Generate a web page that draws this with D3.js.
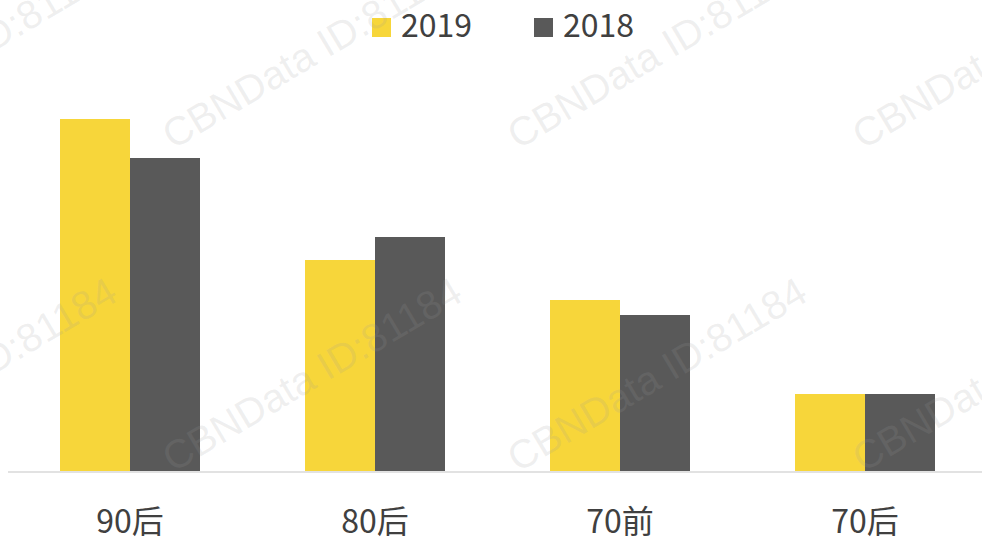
<!DOCTYPE html>
<html>
<head>
<meta charset="utf-8">
<script src="https://cdn.jsdelivr.net/npm/d3@7"></script>
<style>
  html, body { margin: 0; padding: 0; background: #fff; }
  svg { display: block; }
</style>
</head>
<body>
<div id="chart"></div>
<script>
// data (no value axis shown, units are relative)
const categories = ["90后", "80后", "70前", "70后"];
const seriesNames = ["2019", "2018"];
const values2019 = [35.2, 21.1, 17.1, 7.7];
const values2018 = [31.3, 23.4, 15.6, 7.7];
const colors = ["#F7D63A", "#595959"];

const width = 982, height = 540;
const baseY = 471;

const svg = d3.select("#chart").append("svg")
  .attr("width", width).attr("height", height);

const x = d3.scaleBand().domain(categories).range([7.5, 987.5])
  .paddingInner(0.4286).paddingOuter(0.2143);
const xSub = d3.scaleBand().domain(seriesNames).range([0, x.bandwidth()]);
const y = d3.scaleLinear().domain([0, 40]).range([baseY, 71]);

const rows = categories.map((c, i) => ({ cat: c, vals: [values2019[i], values2018[i]] }));

const groups = svg.append("g").selectAll("g").data(rows).join("g")
  .attr("transform", d => `translate(${x(d.cat)},0)`);

groups.selectAll("rect")
  .data(d => d.vals.map((v, j) => ({ name: seriesNames[j], v: v, j: j })))
  .join("rect")
  .attr("x", d => xSub(d.name))
  .attr("width", xSub.bandwidth())
  .attr("y", d => y(d.v))
  .attr("height", d => baseY - y(d.v))
  .attr("fill", d => colors[d.j]);

// category axis
const axis = svg.append("g")
  .attr("transform", `translate(0,${baseY + 0.5})`)
  .call(d3.axisBottom(x).tickSize(0).tickPadding(0));
axis.select(".domain").attr("stroke", "#d9d9d9").attr("stroke-width", 1.5);
axis.selectAll(".tick text")
  .attr("y", 61).attr("dy", 0)
  .attr("fill", "#404040")
  .style("font-family", "'Noto Sans CJK SC', 'Noto Sans', sans-serif")
  .style("font-size", "32px");

// legend
const legend = svg.append("g").selectAll("g").data(seriesNames).join("g")
  .attr("transform", (d, i) => `translate(${372 + i * 162},0)`);
legend.append("rect")
  .attr("x", 0).attr("y", 18).attr("width", 19).attr("height", 19)
  .attr("fill", (d, i) => colors[i]);
legend.append("text")
  .attr("x", 29).attr("y", 37)
  .attr("fill", "#404040")
  .style("font-family", "'Noto Sans CJK SC', 'Noto Sans', sans-serif")
  .style("font-size", "32px")
  .text(d => d);

// watermark
const wmCols = [-172, 173, 518, 863];
const wmRows = [150, 473];
const wm = svg.append("g").attr("pointer-events", "none");
wmRows.forEach(ry => {
  wmCols.forEach(cx => {
    wm.append("text")
      .attr("transform", `translate(${cx},${ry}) rotate(-30.7)`)
      .attr("fill", "#9a9a9a")
      .attr("fill-opacity", 0.16)
      .style("font-family", "'Liberation Sans', Arial, sans-serif")
      .style("font-size", "40px")
      .text("CBNData ID:81184");
  });
});
</script>
</body>
</html>
